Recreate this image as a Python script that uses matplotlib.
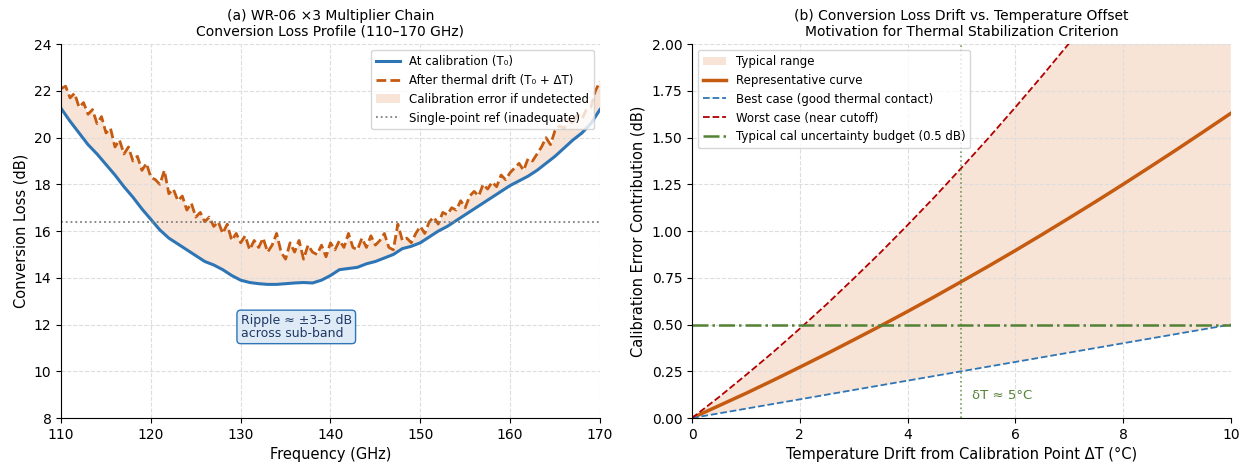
import numpy as np
import matplotlib
matplotlib.use('Agg')
import matplotlib.pyplot as plt

# ---- panel (a): conversion loss vs frequency ----
freq_cal = np.arange(110, 171, 1)
loss_cal = [21.25, 20.7, 20.2, 19.7, 19.3, 18.85, 18.4, 17.9, 17.45, 16.95,
            16.5, 16.05, 15.7, 15.45, 15.2, 14.95, 14.7, 14.55, 14.35, 14.1,
            13.9, 13.8, 13.75, 13.72, 13.72, 13.75, 13.78, 13.8, 13.78, 13.9,
            14.1, 14.35, 14.4, 14.45, 14.6, 14.7, 14.85, 15.0, 15.25, 15.35,
            15.5, 15.75, 16.0, 16.2, 16.45, 16.7, 16.95, 17.2, 17.45, 17.7,
            17.95, 18.15, 18.35, 18.6, 18.9, 19.2, 19.55, 19.9, 20.2, 20.6,
            21.2]

freq_drift = np.arange(110, 170.01, 0.5)
loss_drift = [22.1, 22.2, 21.7, 21.9, 21.3, 21.5, 21.0, 21.2, 20.6, 20.9,
              20.2, 20.4, 19.6, 19.9, 19.3, 19.6, 19.0, 19.2, 18.6, 18.9,
              18.3, 18.2, 18.0, 18.6, 17.6, 17.8, 17.3, 17.5, 16.9, 17.2,
              16.6, 16.8, 16.4, 16.6, 16.2, 16.4, 15.9, 16.3, 15.6, 15.9,
              15.5, 15.8, 15.2, 15.6, 15.3, 15.7, 15.1, 15.4, 15.9, 15.1,
              14.8, 15.5, 15.1, 15.6, 14.8, 15.4, 15.1, 15.0, 15.4, 14.9,
              15.5, 15.2, 15.6, 15.3, 15.9, 15.3, 15.2, 15.7, 15.3, 15.8,
              15.4, 15.6, 15.9, 15.3, 15.2, 16.3, 15.6, 15.7, 15.5, 15.9,
              16.2, 15.9, 16.4, 16.6, 16.3, 16.8, 16.7, 17.0, 16.9, 17.3,
              17.0, 17.5, 17.7, 17.5, 18.0, 17.8, 18.1, 17.9, 18.4, 18.2,
              18.5, 18.7, 18.9, 18.6, 19.1, 19.0, 19.3, 19.6, 20.0, 19.7,
              20.3, 20.5, 20.4, 20.8, 20.6, 21.0, 20.8, 21.2, 21.3, 22.0,
              22.4]
single_point_ref = 16.4

# ---- panel (b): calibration error vs temperature drift ----
delta_t = np.arange(0, 10.01, 0.5)
err_best = [0.0, 0.025, 0.05, 0.075, 0.10, 0.125, 0.15, 0.175, 0.20, 0.225,
            0.25, 0.275, 0.30, 0.325, 0.35, 0.375, 0.40, 0.425, 0.45, 0.475, 0.50]
err_rep = [0.0, 0.066, 0.132, 0.201, 0.272, 0.344, 0.418, 0.493, 0.570, 0.649,
           0.730, 0.812, 0.896, 0.982, 1.070, 1.159, 1.250, 1.343, 1.437, 1.533, 1.630]
err_worst = [0.0, 0.112, 0.23, 0.351, 0.478, 0.609, 0.746, 0.886, 1.032, 1.182,
             1.338, 1.497, 1.662, 1.831, 2.005, 2.184, 2.368, 2.556, 2.750, 2.947, 3.15]
cal_budget = 0.5
dt_criterion = 5

BLUE = '#2e75b6'
ORANGE = '#c55a11'
FILL = '#f4cfb5'
GREEN = '#548235'

fig, (ax1, ax2) = plt.subplots(1, 2, figsize=(12.47, 4.65), dpi=100)
fig.subplots_adjust(left=0.049, right=0.987, bottom=0.101, top=0.905, wspace=0.171)

loss_cal_fine = np.interp(freq_drift, freq_cal, loss_cal)
ax1.fill_between(freq_drift, loss_cal_fine, loss_drift, color=FILL, alpha=0.55,
                 lw=0, label='Calibration error if undetected')
ax1.plot(freq_cal, loss_cal, color=BLUE, lw=2.2, label='At calibration (T\u2080)')
ax1.plot(freq_drift, loss_drift, color=ORANGE, lw=2.0, ls=(0, (3.5, 1.5)),
         label='After thermal drift (T\u2080 + \u0394T)')
ax1.axhline(single_point_ref, color='gray', ls=':', lw=1.3,
            label='Single-point ref (inadequate)')
ax1.set_xlim(110, 170)
ax1.set_ylim(8, 24)
ax1.set_xlabel('Frequency (GHz)', fontsize=10.5)
ax1.set_ylabel('Conversion Loss (dB)', fontsize=10.5)
ax1.set_title('(a) WR-06 \u00d73 Multiplier Chain\nConversion Loss Profile (110\u2013170 GHz)',
              fontsize=10)
ax1.grid(True, ls='--', color='#dddddd', lw=0.8)
ax1.text(130, 11.9, 'Ripple \u2248 \u00b13\u20135 dB\nacross sub-band', fontsize=9,
         color='#1f3864', va='center', linespacing=1.0,
         bbox=dict(boxstyle='round,pad=0.3', fc='#deebf7', ec=BLUE, lw=1))
h, l = ax1.get_legend_handles_labels()
order = [1, 2, 0, 3]
ax1.legend([h[i] for i in order], [l[i] for i in order], loc='upper right', fontsize=8.5)

ax2.fill_between(delta_t, err_best, err_worst, color=FILL, alpha=0.55, lw=0,
                 label='Typical range')
ax2.plot(delta_t, err_rep, color=ORANGE, lw=2.5, label='Representative curve')
ax2.plot(delta_t, err_best, color=BLUE, lw=1.3, ls='--',
         label='Best case (good thermal contact)')
ax2.plot(delta_t, err_worst, color='#b00000', lw=1.3, ls='--',
         label='Worst case (near cutoff)')
ax2.axhline(cal_budget, color=GREEN, lw=1.8, ls='-.',
            label='Typical cal uncertainty budget (0.5 dB)')
ax2.axvline(dt_criterion, color=GREEN, lw=1.2, ls=':', alpha=0.8)
ax2.text(dt_criterion + 0.2, 0.12, '\u03b4T \u2248 5\u00b0C', color=GREEN, fontsize=9.5,
         va='center')
ax2.set_xlim(0, 10)
ax2.set_ylim(0, 2.0)
ax2.set_yticks(np.arange(0, 2.01, 0.25))
ax2.set_xlabel('Temperature Drift from Calibration Point \u0394T (\u00b0C)', fontsize=10.5)
ax2.set_ylabel('Calibration Error Contribution (dB)', fontsize=10.5)
ax2.set_title('(b) Conversion Loss Drift vs. Temperature Offset\nMotivation for Thermal Stabilization Criterion',
              fontsize=10)
ax2.grid(True, ls='--', color='#dddddd', lw=0.8)
ax2.legend(loc='upper left', fontsize=8.5)

for ax in (ax1, ax2):
    ax.spines['top'].set_visible(False)
    ax.spines['right'].set_visible(False)
    ax.tick_params(labelsize=10)

fig.savefig('out.png', dpi=100)
